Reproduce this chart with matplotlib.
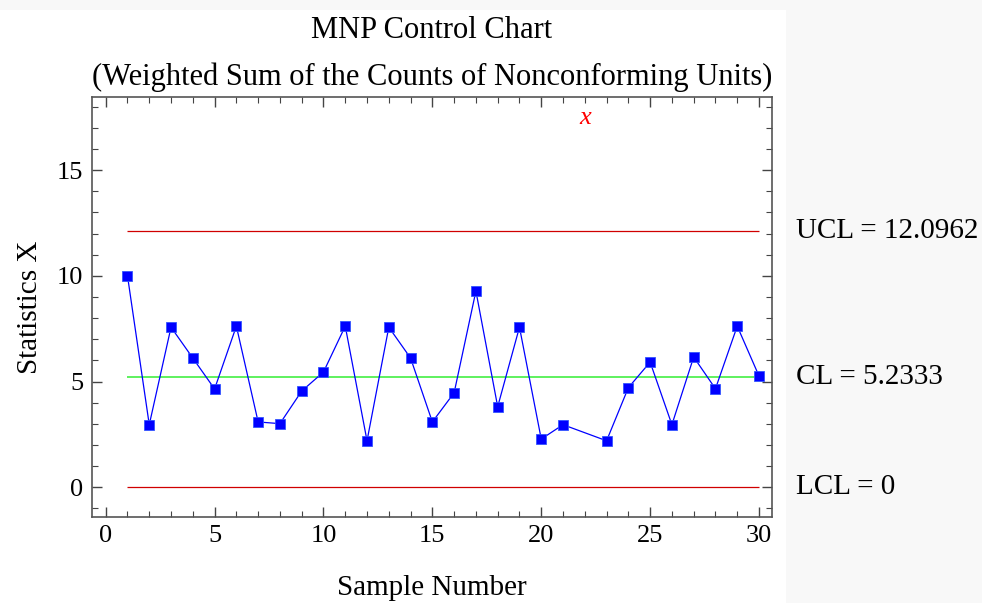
import numpy as np
import matplotlib
matplotlib.use('Agg')
from matplotlib import pyplot as plt
from matplotlib.patches import Rectangle
from matplotlib.ticker import MultipleLocator
import matplotlib.transforms as mtransforms

# sample numbers and statistic values (sample 22 is off-chart, shown as red x)
samples = [1, 2, 3, 4, 5, 6, 7, 8, 9, 10, 11, 12, 13, 14, 15,
           16, 17, 18, 19, 20, 21, 23, 24, 25, 26, 27, 28, 29, 30]
stat_x = [10.0, 2.96, 7.57, 6.11, 4.65, 7.62, 3.09, 3.01, 4.55, 5.45,
          7.62, 2.20, 7.57, 6.11, 3.09, 4.47, 9.28, 3.81, 7.57, 2.28,
          2.96, 2.20, 4.71, 5.92, 2.96, 6.16, 4.66, 7.62, 5.26]
flagged_sample = 22

UCL = 12.0962
CL = 5.2333
LCL = 0
limit_labels = ['UCL = 12.0962', 'CL = 5.2333', 'LCL = 0']

plt.rcParams['font.family'] = ['Liberation Serif', 'DejaVu Serif']

fig = plt.figure(figsize=(9.82, 6.03), dpi=100, facecolor='#f8f8f8')
# white panel behind the chart, right strip stays light grey
fig.patches.append(Rectangle((0, 0), 786 / 982, 593 / 603, transform=fig.transFigure,
                             facecolor='white', edgecolor='none', zorder=-5))

ax = fig.add_axes([91.7 / 982, 1 - 516.7 / 603, (772.3 - 91.7) / 982, (516.7 - 97.3) / 603])
ax.set_facecolor('white')

ax.plot(samples, stat_x, color='blue', lw=0.9, marker='s', ms=7.5,
        markerfacecolor='blue', markeredgecolor='#3355ff', mew=0.6, zorder=3)

first, last = samples[0], samples[-1]
ax.hlines([UCL, LCL], first, last, colors='#d00000', lw=0.9, zorder=2)
ax.hlines(CL, first, last, colors='#33ee33', lw=1.1, zorder=2)

trans = mtransforms.blended_transform_factory(ax.transData, ax.transAxes)
ax.text(flagged_sample, 0.95, 'x', color='red', style='italic', fontsize=19,
        ha='center', va='center', transform=trans)

ax.set_xlim(-0.643, 30.61)
ax.set_ylim(-1.39, 18.44)
ax.xaxis.set_major_locator(MultipleLocator(5))
ax.xaxis.set_minor_locator(MultipleLocator(1))
ax.yaxis.set_major_locator(MultipleLocator(5))
ax.yaxis.set_minor_locator(MultipleLocator(1))
ax.tick_params(which='both', direction='in', top=True, right=True,
               labelsize=19, color='#444444')
ax.tick_params(which='major', length=7, width=1, pad=6)
ax.tick_params(which='minor', length=4, width=0.8)
for s in ax.spines.values():
    s.set_color('#555555')
    s.set_linewidth(1.2)

ax.set_xlabel('Sample Number', fontsize=21, labelpad=20)
ax.set_ylabel('Statistics X', fontsize=21, labelpad=10)
ax.set_title('MNP Control Chart\n(Weighted Sum of the Counts of Nonconforming Units)',
             fontsize=22, linespacing=1.75, pad=9)

ytrans = mtransforms.blended_transform_factory(fig.transFigure, ax.transData)
for val, lab in zip([UCL, CL, LCL], limit_labels):
    ax.text(796 / 982, val, lab, fontsize=21, ha='left', va='center', transform=ytrans)

fig.savefig('out.png', dpi=100, facecolor=fig.get_facecolor())
